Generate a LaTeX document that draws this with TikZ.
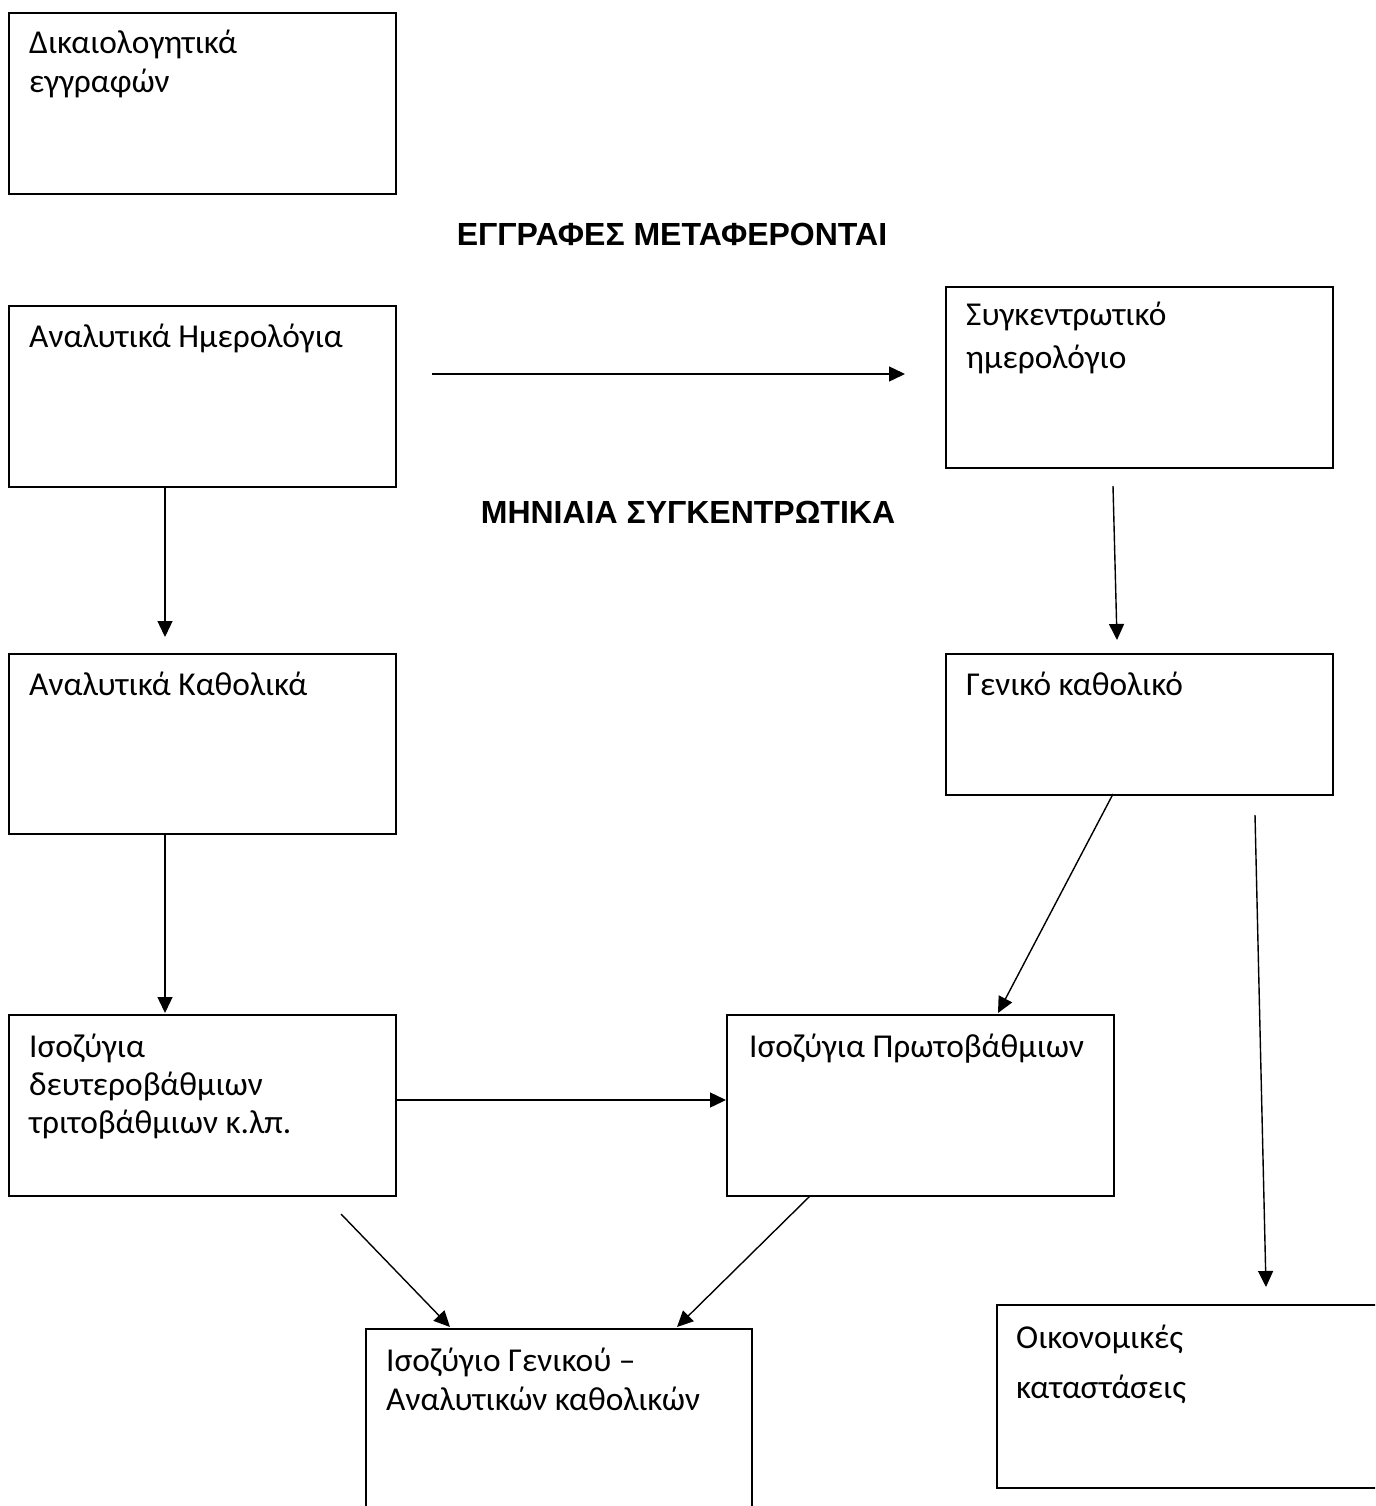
\documentclass[tikz,border=0pt]{standalone}
\usepackage{fontspec}
\setmainfont{Carlito}
\newfontfamily\headfont{Liberation Sans}
\usetikzlibrary{arrows.meta}
\newcommand{\boxlines}[1]{\vtop{\halign{##\hfil\cr#1\crcr}}}
\begin{document}
\begin{tikzpicture}[x=1pt,y=-1pt,
  boxframe/.style={draw, line width=1.9pt, inner sep=0pt, anchor=north west, minimum width=387pt},
  boxtext/.style={anchor=base west, inner sep=0pt, font=\fontsize{33.4}{39}\selectfont},
  headtext/.style={anchor=base, inner sep=0pt, font=\headfont\bfseries\fontsize{32}{38}\selectfont},
  arr/.style={line width=1.4pt, -{Triangle[length=16pt,width=15pt]}}]
\useasboundingbox (0,0) rectangle (1375,1506);
\clip (0,0) rectangle (1375,1506);

% boxes
\node[boxframe, minimum height=181pt] (A) at (8,12) {};
\node[boxframe, minimum height=181pt] (B) at (8,305) {};
\node[boxframe, minimum height=181pt] (C) at (945,286) {};
\node[boxframe, minimum height=180pt] (D) at (8,653) {};
\node[boxframe, minimum height=141pt] (E) at (945,653) {};
\node[boxframe, minimum height=181pt] (F) at (8,1014) {};
\node[boxframe, minimum height=181pt] (G) at (726,1014) {};
\node[boxframe, minimum height=220pt, minimum width=386pt] (H) at (365,1328) {};
\node[boxframe, minimum height=183pt, minimum width=400pt] (I) at (996,1304) {};

% box texts
\node[boxtext] (At) at (29,54) {\boxlines{Δικαιολογητικά\cr εγγραφών}};
\node[boxtext] (Bt) at (29,347) {Αναλυτικά Ημερολόγια};
\node[boxtext, font=\fontsize{33.4}{43}\selectfont] (Ct) at (966,325) {\boxlines{Συγκεντρωτικό\cr ημερολόγιο}};
\node[boxtext] (Dt) at (29,695) {Αναλυτικά Καθολικά};
\node[boxtext] (Et) at (966,695) {Γενικό καθολικό};
\node[boxtext, font=\fontsize{33.4}{38}\selectfont] (Ft) at (29,1057) {\boxlines{Ισοζύγια\cr δευτεροβάθμιων\cr τριτοβάθμιων κ.λπ.}};
\node[boxtext] (Gt) at (749,1057) {Ισοζύγια Πρωτοβάθμιων};
\node[boxtext] (Ht) at (386,1371) {\boxlines{Ισοζύγιο Γενικού –\cr Αναλυτικών καθολικών}};
\node[boxtext, font=\fontsize{33.4}{50}\selectfont] (It) at (1016,1348) {\boxlines{Οικονομικές\cr καταστάσεις}};

% headings
\node[headtext] (L1) at (672,246) {ΕΓΓΡΑΦΕΣ ΜΕΤΑΦΕΡΟΝΤΑΙ};
\node[headtext] (L2) at (688,523) {ΜΗΝΙΑΙΑ ΣΥΓΚΕΝΤΡΩΤΙΚΑ};

% connector end points
\coordinate (p1) at (432,374);
\coordinate (p2) at (905,374);
\coordinate (p3) at (165,486);
\coordinate (p4) at (165,637);
\coordinate (p5) at (1113,486);
\coordinate (p6) at (1117,640);
\coordinate (p7) at (165,833);
\coordinate (p8) at (165,1013);
\coordinate (p9) at (1113,794);
\coordinate (p10) at (998,1013);
\coordinate (p11) at (1255,815);
\coordinate (p12) at (1266,1287);
\coordinate (p13) at (395,1100);
\coordinate (p14) at (726,1100);
\coordinate (p15) at (341,1214);
\coordinate (p16) at (450,1327);
\coordinate (p17) at (810,1196);
\coordinate (p18) at (677,1327);

\draw[arr] (p1) -- (p2);
\draw[arr] (p3) -- (p4);
\draw[arr] (p5) -- (p6);
\draw[arr] (p7) -- (p8);
\draw[arr] (p9) -- (p10);
\draw[arr] (p11) -- (p12);
\draw[arr] (p13) -- (p14);
\draw[arr] (p15) -- (p16);
\draw[arr] (p17) -- (p18);
\end{tikzpicture}
\end{document}
